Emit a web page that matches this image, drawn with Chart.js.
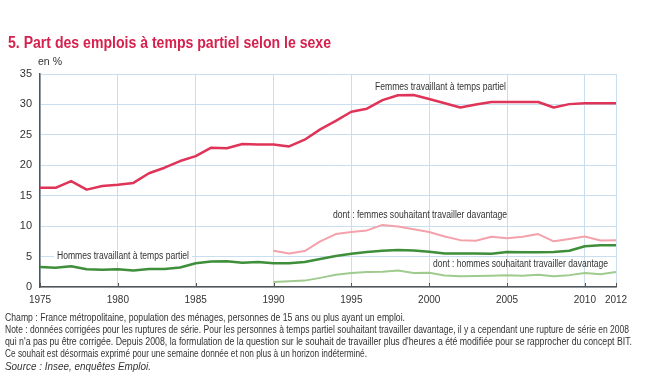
<!DOCTYPE html>
<html>
<head>
<meta charset="utf-8">
<script src="https://cdn.jsdelivr.net/npm/chart.js@4/dist/chart.umd.min.js"></script>
<style>
  html, body { margin: 0; padding: 0; background: #fff; }
  #wrap { position: relative; width: 661px; height: 388px; }
</style>
</head>
<body>
<div id="wrap"><canvas id="chart" width="661" height="388"></canvas></div>
<script>
// DONNÉES
const annees = [1975, 1976, 1977, 1978, 1979, 1980, 1981, 1982, 1983, 1984, 1985, 1986, 1987, 1988, 1989,
  1990, 1991, 1992, 1993, 1994, 1995, 1996, 1997, 1998, 1999, 2000, 2001, 2002, 2003, 2004, 2005,
  2006, 2007, 2008, 2009, 2010, 2011, 2012];
const femmesTempsPartiel = [16.3, 16.3, 17.4, 16.0, 16.6, 16.8, 17.1, 18.7, 19.6, 20.7, 21.5, 22.9, 22.8, 23.5, 23.4,
  23.4, 23.1, 24.2, 25.9, 27.3, 28.8, 29.3, 30.7, 31.5, 31.55, 30.9, 30.2, 29.5, 30.0, 30.4, 30.4,
  30.4, 30.4, 29.5, 30.05, 30.2, 30.2, 30.2];
const hommesTempsPartiel = [3.27, 3.16, 3.4, 2.9, 2.85, 2.9, 2.7, 2.95, 2.95, 3.2, 3.9, 4.2, 4.25, 4.0, 4.1,
  3.9, 3.9, 4.1, 4.6, 5.1, 5.45, 5.75, 5.95, 6.1, 6.0, 5.8, 5.5, 5.5, 5.5, 5.45, 5.75,
  5.7, 5.7, 5.75, 5.95, 6.7, 6.85, 6.85];
const anneesSouhait = [1990, 1991, 1992, 1993, 1994, 1995, 1996, 1997, 1998, 1999, 2000, 2001, 2002, 2003, 2004,
  2005, 2006, 2007, 2008, 2009, 2010, 2011, 2012];
const femmesSouhait = [5.97, 5.5, 5.9, 7.5, 8.7, 9.05, 9.3, 10.2, 9.95, 9.5, 9.05, 8.3, 7.7, 7.6, 8.25,
  8.0, 8.25, 8.7, 7.5, 7.9, 8.3, 7.65, 7.7];
const hommesSouhait = [0.84, 0.95, 1.05, 1.5, 2.0, 2.3, 2.45, 2.5, 2.7, 2.3, 2.35, 1.9, 1.75, 1.8, 1.85,
  1.95, 1.85, 2.0, 1.75, 1.95, 2.3, 2.1, 2.45];
const ticksX = [1975, 1980, 1985, 1990, 1995, 2000, 2005, 2010, 2012];

const titre = '5. Part des emplois à temps partiel selon le sexe';
const notes = [
  'Champ : France métropolitaine, population des ménages, personnes de 15 ans ou plus ayant un emploi.',
  'Note : données corrigées pour les ruptures de série. Pour les personnes à temps partiel souhaitant travailler davantage, il y a cependant une rupture de série en 2008',
  'qui n\'a pas pu être corrigée. Depuis 2008, la formulation de la question sur le souhait de travailler plus d\'heures a été modifiée pour se rapprocher du concept BIT.',
  'Ce souhait est désormais exprimé pour une semaine donnée et non plus à un horizon indéterminé.'
];
const source = 'Source : Insee, enquêtes Emploi.';

const pts = (xs, ys) => xs.map((x, i) => ({ x: x, y: ys[i] }));

// texte comprimé en largeur pour imiter la police étroite
function fitText(ctx, txt, x, y, w) {
  const m = ctx.measureText(txt).width;
  ctx.save();
  ctx.translate(x, y);
  ctx.scale(w / m, 1);
  ctx.fillText(txt, 0, 0);
  ctx.restore();
}

const decor = {
  id: 'decor',
  beforeDatasetsDraw(chart) {
    const ctx = chart.ctx;
    const xs = chart.scales.x, ys = chart.scales.y;
    ctx.save();
    // petites graduations vers le haut
    ctx.strokeStyle = '#555';
    ctx.lineWidth = 1;
    ticksX.forEach(t => {
      const px = Math.round(xs.getPixelForValue(t)) + 0.5;
      ctx.beginPath();
      ctx.moveTo(px, ys.bottom);
      ctx.lineTo(px, ys.bottom - 4);
      ctx.stroke();
    });
    // étiquette hommes avec fond blanc
    ctx.font = '10px "Liberation Sans", sans-serif';
    ctx.textBaseline = 'middle';
    ctx.fillStyle = '#fff';
    ctx.fillRect(54, 250, 138, 12);
    ctx.fillStyle = '#333';
    fitText(ctx, 'Hommes travaillant à temps partiel', 57, 256, 132);
    ctx.restore();
  },
  afterDraw(chart) {
    const ctx = chart.ctx;
    ctx.save();
    ctx.textBaseline = 'middle';
    ctx.fillStyle = '#d6214d';
    ctx.font = 'bold 16px "Liberation Sans", sans-serif';
    fitText(ctx, titre, 8, 44, 323);
    ctx.fillStyle = '#333';
    ctx.font = '10px "Liberation Sans", sans-serif';
    fitText(ctx, 'en %', 38, 62, 24);
    fitText(ctx, 'Femmes travaillant à temps partiel', 375, 87, 131);
    fitText(ctx, 'dont : femmes souhaitant travailler davantage', 333, 215, 174);
    fitText(ctx, 'dont : hommes souhaitant travailler davantage', 433, 264, 175);
    ctx.font = '10px "Liberation Sans", sans-serif';
    const larg = [400, 624, 627, 362];
    notes.forEach((n, i) => fitText(ctx, n, 5, 318 + i * 12.2, larg[i]));
    ctx.font = 'italic 10px "Liberation Sans", sans-serif';
    fitText(ctx, source, 5, 367, 146);
    ctx.restore();
  }
};

new Chart(document.getElementById('chart'), {
  type: 'line',
  data: {
    datasets: [
      { data: pts(anneesSouhait, hommesSouhait), borderColor: '#9fcb8f', borderWidth: 2 },
      { data: pts(anneesSouhait, femmesSouhait), borderColor: '#f3a2ab', borderWidth: 2 },
      { data: pts(annees, hommesTempsPartiel), borderColor: '#3f8e3a', borderWidth: 2.5 },
      { data: pts(annees, femmesTempsPartiel), borderColor: '#e03358', borderWidth: 2.5 }
    ]
  },
  options: {
    responsive: false,
    animation: false,
    events: [],
    elements: { point: { radius: 0 }, line: { tension: 0, borderJoinStyle: 'round' } },
    layout: { padding: { left: 0, top: 74, right: 45, bottom: 81 } },
    plugins: { legend: { display: false }, tooltip: { enabled: false } },
    scales: {
      x: {
        type: 'linear',
        min: 1975,
        max: 2012,
        afterBuildTicks: s => { s.ticks = ticksX.map(v => ({ value: v })); },
        afterFit: s => { s.height = 20; },
        grid: { color: '#c9dff0', lineWidth: 1, drawTicks: false },
        border: { color: '#555', width: 1.5 },
        ticks: {
          padding: 7,
          color: '#333',
          font: { family: '"Liberation Sans", sans-serif', size: 10 },
          maxRotation: 0,
          autoSkip: false,
          callback: v => String(v)
        }
      },
      y: {
        min: 0,
        max: 35,
        afterFit: s => { s.width = 40; },
        grid: { color: '#c9dff0', lineWidth: 1, drawTicks: false },
        border: { color: '#555', width: 1.5 },
        ticks: {
          stepSize: 5,
          padding: 8,
          color: '#333',
          font: { family: '"Liberation Sans", sans-serif', size: 11 }
        }
      }
    }
  },
  plugins: [decor]
});
</script>
</body>
</html>
